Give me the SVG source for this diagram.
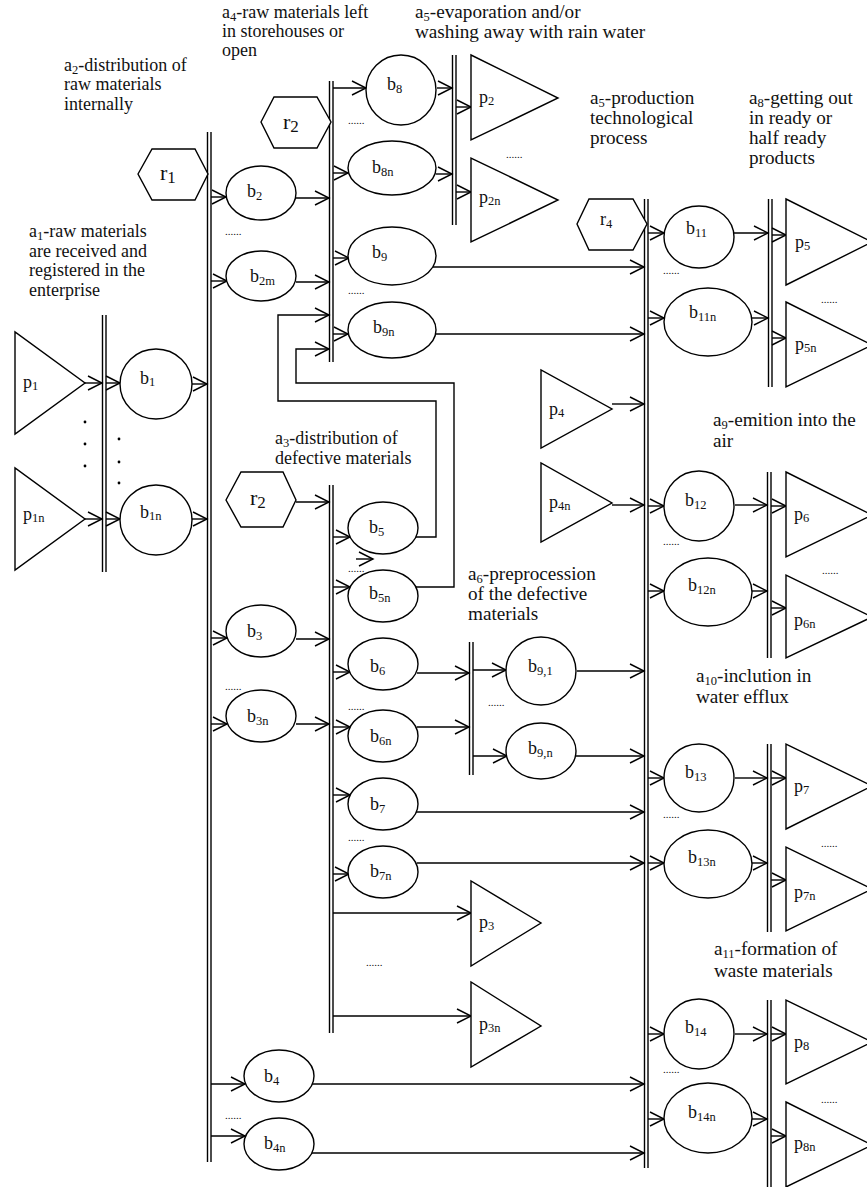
<svg xmlns="http://www.w3.org/2000/svg" width="867" height="1187" viewBox="0 0 867 1187">
  <style>
    .shape { fill: #fff; stroke: #000; stroke-width: 1.4; }
    .bar line { stroke: #000; stroke-width: 1.4; }
    .conn path { fill: none; stroke: #000; stroke-width: 1.4; marker-end: url(#ah); }
    text { font-family: "Liberation Serif", "Times New Roman", serif; fill: #111; }
    .t { font-size: 18px; }
    .t2 { font-size: 19.2px; }
    .n { font-size: 18px; }
    .r { font-size: 22px; }
    .s { font-size: 12.5px; }
    .rs { font-size: 17px; }
    .dots { font-size: 11px; }
    .dot { fill: #000; }
  </style>
  <defs>
    <marker id="ah" viewBox="0 0 16 16" markerWidth="16" markerHeight="16" refX="15" refY="8" orient="auto" markerUnits="userSpaceOnUse" overflow="visible">
      <path d="M1,1 L15,8 L1,15" fill="none" stroke="#000" stroke-width="1.4"/>
    </marker>
  </defs>
  <rect width="867" height="1187" fill="#fff"/>

  <!-- stage captions -->
  <g id="captions">
    <text class="t" x="222" y="18">a<tspan class="s" dy="3">4</tspan><tspan dy="-3">-raw materials left</tspan></text>
    <text class="t" x="222" y="37">in storehouses or</text>
    <text class="t" x="222" y="56">open</text>
    <text class="t2" x="415" y="18">a<tspan class="s" dy="3">5</tspan><tspan dy="-3">-evaporation and/or</tspan></text>
    <text class="t2" x="415" y="38">washing away with rain water</text>
    <text class="t" x="64" y="71">a<tspan class="s" dy="3">2</tspan><tspan dy="-3">-distribution of</tspan></text>
    <text class="t" x="64" y="90">raw materials</text>
    <text class="t" x="64" y="110">internally</text>
    <text class="t" x="29" y="237">a<tspan class="s" dy="3">1</tspan><tspan dy="-3">-raw materials</tspan></text>
    <text class="t" x="29" y="257">are received and</text>
    <text class="t" x="29" y="276">registered in the</text>
    <text class="t" x="29" y="296">enterprise</text>
    <text class="t2" x="590" y="104">a<tspan class="s" dy="3">5</tspan><tspan dy="-3">-production</tspan></text>
    <text class="t2" x="590" y="124">technological</text>
    <text class="t2" x="590" y="144">process</text>
    <text class="t2" x="749" y="104">a<tspan class="s" dy="3">8</tspan><tspan dy="-3">-getting out</tspan></text>
    <text class="t2" x="749" y="124">in ready or</text>
    <text class="t2" x="749" y="144">half ready</text>
    <text class="t2" x="749" y="164">products</text>
    <text class="t" x="275" y="444">a<tspan class="s" dy="3">3</tspan><tspan dy="-3">-distribution of</tspan></text>
    <text class="t" x="275" y="464">defective materials</text>
    <text class="t2" x="468" y="580">a<tspan class="s" dy="3">6</tspan><tspan dy="-3">-preprocession</tspan></text>
    <text class="t2" x="468" y="600">of the defective</text>
    <text class="t2" x="468" y="620">materials</text>
    <text class="t2" x="713" y="426">a<tspan class="s" dy="3">9</tspan><tspan dy="-3">-emition into the</tspan></text>
    <text class="t2" x="713" y="447">air</text>
    <text class="t2" x="696" y="682">a<tspan class="s" dy="3">10</tspan><tspan dy="-3">-inclution in</tspan></text>
    <text class="t2" x="696" y="703">water efflux</text>
    <text class="t2" x="714" y="955">a<tspan class="s" dy="3">11</tspan><tspan dy="-3">-formation of</tspan></text>
    <text class="t2" x="714" y="977">waste materials</text>
  </g>

  <!-- transitions (double bars) -->
  <g id="a1" class="bar"><line x1="102.5" y1="315" x2="102.5" y2="572"/><line x1="106" y1="315" x2="106" y2="572"/></g>
  <g id="a2" class="bar"><line x1="207.5" y1="132" x2="207.5" y2="1162"/><line x1="211" y1="132" x2="211" y2="1162"/></g>
  <g id="a4" class="bar"><line x1="329.5" y1="81" x2="329.5" y2="362"/><line x1="333" y1="81" x2="333" y2="362"/></g>
  <g id="a5-evaporation" class="bar"><line x1="452.5" y1="55" x2="452.5" y2="225"/><line x1="456" y1="55" x2="456" y2="225"/></g>
  <g id="a3" class="bar"><line x1="329.5" y1="485" x2="329.5" y2="1033"/><line x1="333" y1="485" x2="333" y2="1033"/></g>
  <g id="a6" class="bar"><line x1="469.5" y1="642" x2="469.5" y2="775"/><line x1="473" y1="642" x2="473" y2="775"/></g>
  <g id="a5-production" class="bar"><line x1="644.5" y1="199" x2="644.5" y2="1168"/><line x1="648" y1="199" x2="648" y2="1168"/></g>
  <g id="a8" class="bar"><line x1="768.5" y1="199" x2="768.5" y2="387"/><line x1="772" y1="199" x2="772" y2="387"/></g>
  <g id="a9" class="bar"><line x1="767.5" y1="472" x2="767.5" y2="658"/><line x1="771" y1="472" x2="771" y2="658"/></g>
  <g id="a10" class="bar"><line x1="767.5" y1="744" x2="767.5" y2="932"/><line x1="771" y1="744" x2="771" y2="932"/></g>
  <g id="a11" class="bar"><line x1="767.5" y1="1000" x2="767.5" y2="1187"/><line x1="771" y1="1000" x2="771" y2="1187"/></g>

  <!-- connectors -->
  <g id="connectors" class="conn">
    <path d="M85,383 H102"/>
    <path d="M106,383 H120"/>
    <path d="M192,384 H207"/>
    <path d="M85,519 H102"/>
    <path d="M106,519 H120"/>
    <path d="M192,519 H207"/>
    <path d="M211,197 H226"/>
    <path d="M211,281 H227"/>
    <path d="M211,638 H227"/>
    <path d="M211,724 H227"/>
    <path d="M211,1084 H245"/>
    <path d="M211,1136 H245"/>
    <path d="M296,198 H329"/>
    <path d="M296,282 H329"/>
    <path d="M296,639 H329"/>
    <path d="M296,724 H329"/>
    <path d="M333,88 H366"/>
    <path d="M333,173 H348"/>
    <path d="M333,258 H349"/>
    <path d="M333,334 H348"/>
    <path d="M416,537 H436 V401 H278 V315 H329"/>
    <path d="M416,587 H454 V383 H296 V349 H329"/>
    <path d="M437,88 H452"/>
    <path d="M436,174 H452"/>
    <path d="M456,107 H471"/>
    <path d="M456,192 H471"/>
    <path d="M433,267 H644"/>
    <path d="M436,334 H644"/>
    <path d="M296,502 H329"/>
    <path d="M333,537 H350"/>
    <path d="M333,587 H350"/>
    <path d="M356,559 H373"/>
    <path d="M333,672 H350"/>
    <path d="M333,727 H350"/>
    <path d="M333,795 H350"/>
    <path d="M333,874 H349"/>
    <path d="M333,913 H471"/>
    <path d="M333,1016 H471"/>
    <path d="M417,673 H469"/>
    <path d="M417,727 H469"/>
    <path d="M473,670 H506"/>
    <path d="M473,756 H507"/>
    <path d="M577,671 H644"/>
    <path d="M576,756 H644"/>
    <path d="M416,812 H644"/>
    <path d="M417,863 H644"/>
    <path d="M612,404 H644"/>
    <path d="M612,505 H644"/>
    <path d="M312,1084 H644"/>
    <path d="M312,1153 H644"/>
    <path d="M648,233 H664"/>
    <path d="M648,318 H664"/>
    <path d="M648,506 H664"/>
    <path d="M648,591 H664"/>
    <path d="M648,778 H664"/>
    <path d="M648,863 H664"/>
    <path d="M648,1034 H664"/>
    <path d="M648,1119 H664"/>
    <path d="M734,233 H768"/>
    <path d="M752,318 H768"/>
    <path d="M772,235 H786"/>
    <path d="M772,338 H786"/>
    <path d="M735,505 H767"/>
    <path d="M752,591 H767"/>
    <path d="M771,506 H786"/>
    <path d="M771,608 H786"/>
    <path d="M735,778 H767"/>
    <path d="M752,863 H767"/>
    <path d="M771,778 H786"/>
    <path d="M771,880 H786"/>
    <path d="M735,1034 H767"/>
    <path d="M752,1119 H767"/>
    <path d="M771,1034 H786"/>
    <path d="M771,1136 H786"/>
  </g>

  <!-- resources (hexagons) -->
  <g id="r1"><polygon class="shape" points="138,174 152,149 195,149 208,174 195,200 152,200"/><text class="r" x="160" y="180">r<tspan class="rs" dy="3">1</tspan></text></g>
  <g id="r2-top"><polygon class="shape" points="261,122 274,97 317,97 331,122 317,148 274,148"/><text class="r" x="283" y="129">r<tspan class="rs" dy="3">2</tspan></text></g>
  <g id="r2-mid"><polygon class="shape" points="226,500 241,472 283,472 296,500 283,527 241,527"/><text class="r" x="250" y="505">r<tspan class="rs" dy="3">2</tspan></text></g>
  <g id="r4"><polygon class="shape" points="577,224 589,199 633,199 647,224 633,250 589,250"/><text class="n" x="600" y="225">r<tspan class="s" dy="3">4</tspan></text></g>

  <!-- places (triangles) -->
  <g id="p1"><polygon class="shape" points="15,332 15,434 85,383"/><text class="n" x="23" y="388">p<tspan class="s" dy="2">1</tspan></text></g>
  <g id="p1n"><polygon class="shape" points="15,468 15,570 85,519"/><text class="n" x="23" y="520">p<tspan class="s" dy="2">1n</tspan></text></g>
  <g id="p2"><polygon class="shape" points="471,55 471,140 558,98"/><text class="n" x="479" y="103">p<tspan class="s" dy="2">2</tspan></text></g>
  <g id="p2n"><polygon class="shape" points="471,158 471,242 558,200"/><text class="n" x="479" y="203">p<tspan class="s" dy="2">2n</tspan></text></g>
  <g id="p3"><polygon class="shape" points="471,881 471,966 541,923"/><text class="n" x="479" y="928">p<tspan class="s" dy="2">3</tspan></text></g>
  <g id="p3n"><polygon class="shape" points="471,982 471,1067 541,1026"/><text class="n" x="479" y="1030">p<tspan class="s" dy="2">3n</tspan></text></g>
  <g id="p4"><polygon class="shape" points="541,370 541,448 612,409"/><text class="n" x="549" y="415">p<tspan class="s" dy="2">4</tspan></text></g>
  <g id="p4n"><polygon class="shape" points="541,463 541,542 612,503"/><text class="n" x="549" y="508">p<tspan class="s" dy="2">4n</tspan></text></g>
  <g id="p5"><polygon class="shape" points="786,199 786,285 872,242"/><text class="n" x="795" y="248">p<tspan class="s" dy="2">5</tspan></text></g>
  <g id="p5n"><polygon class="shape" points="786,302 786,387 872,345"/><text class="n" x="795" y="350">p<tspan class="s" dy="2">5n</tspan></text></g>
  <g id="p6"><polygon class="shape" points="786,472 786,557 872,515"/><text class="n" x="794" y="520">p<tspan class="s" dy="2">6</tspan></text></g>
  <g id="p6n"><polygon class="shape" points="786,575 786,658 872,617"/><text class="n" x="794" y="626">p<tspan class="s" dy="2">6n</tspan></text></g>
  <g id="p7"><polygon class="shape" points="786,744 786,829 872,786"/><text class="n" x="794" y="792">p<tspan class="s" dy="2">7</tspan></text></g>
  <g id="p7n"><polygon class="shape" points="786,847 786,931 872,889"/><text class="n" x="794" y="898">p<tspan class="s" dy="2">7n</tspan></text></g>
  <g id="p8"><polygon class="shape" points="786,1000 786,1084 872,1042"/><text class="n" x="794" y="1048">p<tspan class="s" dy="2">8</tspan></text></g>
  <g id="p8n"><polygon class="shape" points="786,1102 786,1187 872,1145"/><text class="n" x="794" y="1149">p<tspan class="s" dy="2">8n</tspan></text></g>

  <!-- states (ellipses) -->
  <g id="b1"><ellipse class="shape" cx="156" cy="384" rx="36" ry="35"/><text class="n" x="140" y="384">b<tspan class="s" dy="2">1</tspan></text></g>
  <g id="b1n"><ellipse class="shape" cx="156" cy="520" rx="36" ry="35"/><text class="n" x="140" y="518">b<tspan class="s" dy="2">1n</tspan></text></g>
  <g id="b2"><ellipse class="shape" cx="261" cy="193" rx="35" ry="27"/><text class="n" x="247" y="197">b<tspan class="s" dy="3">2</tspan></text></g>
  <g id="b2m"><ellipse class="shape" cx="261" cy="276" rx="35" ry="25"/><text class="n" x="250" y="282">b<tspan class="s" dy="3">2m</tspan></text></g>
  <g id="b8"><ellipse class="shape" cx="401" cy="90" rx="35" ry="35"/><text class="n" x="387" y="90">b<tspan class="s" dy="3">8</tspan></text></g>
  <g id="b8n"><ellipse class="shape" cx="392" cy="168" rx="44" ry="27"/><text class="n" x="372" y="173">b<tspan class="s" dy="3">8n</tspan></text></g>
  <g id="b9"><ellipse class="shape" cx="392" cy="256" rx="44" ry="29"/><text class="n" x="372" y="258">b<tspan class="s" dy="3">9</tspan></text></g>
  <g id="b9n"><ellipse class="shape" cx="392" cy="330" rx="44" ry="28"/><text class="n" x="373" y="333">b<tspan class="s" dy="3">9n</tspan></text></g>
  <g id="b5"><ellipse class="shape" cx="383" cy="528" rx="35" ry="26"/><text class="n" x="369" y="533">b<tspan class="s" dy="3">5</tspan></text></g>
  <g id="b5n"><ellipse class="shape" cx="383" cy="596" rx="35" ry="26"/><text class="n" x="369" y="599">b<tspan class="s" dy="3">5n</tspan></text></g>
  <g id="b3"><ellipse class="shape" cx="261" cy="631" rx="35" ry="26"/><text class="n" x="247" y="637">b<tspan class="s" dy="3">3</tspan></text></g>
  <g id="b3n"><ellipse class="shape" cx="261" cy="716" rx="35" ry="26"/><text class="n" x="247" y="722">b<tspan class="s" dy="3">3n</tspan></text></g>
  <g id="b6"><ellipse class="shape" cx="383" cy="664" rx="35" ry="26"/><text class="n" x="370" y="672">b<tspan class="s" dy="3">6</tspan></text></g>
  <g id="b6n"><ellipse class="shape" cx="383" cy="736" rx="35" ry="26"/><text class="n" x="370" y="742">b<tspan class="s" dy="3">6n</tspan></text></g>
  <g id="b7"><ellipse class="shape" cx="383" cy="804" rx="35" ry="26"/><text class="n" x="370" y="810">b<tspan class="s" dy="3">7</tspan></text></g>
  <g id="b7n"><ellipse class="shape" cx="383" cy="872" rx="35" ry="26"/><text class="n" x="370" y="877">b<tspan class="s" dy="3">7n</tspan></text></g>
  <g id="b9-1"><ellipse class="shape" cx="541" cy="671" rx="35" ry="34"/><text class="n" x="528" y="672">b<tspan class="s" dy="3">9,1</tspan></text></g>
  <g id="b9-n"><ellipse class="shape" cx="541" cy="751" rx="35" ry="28"/><text class="n" x="528" y="754">b<tspan class="s" dy="3">9,n</tspan></text></g>
  <g id="b4"><ellipse class="shape" cx="279" cy="1076" rx="35" ry="26"/><text class="n" x="264" y="1082">b<tspan class="s" dy="3">4</tspan></text></g>
  <g id="b4n"><ellipse class="shape" cx="279" cy="1144" rx="35" ry="26"/><text class="n" x="264" y="1149">b<tspan class="s" dy="3">4n</tspan></text></g>
  <g id="b11"><ellipse class="shape" cx="699" cy="237" rx="35" ry="31"/><text class="n" x="686" y="234">b<tspan class="s" dy="3">11</tspan></text></g>
  <g id="b11n"><ellipse class="shape" cx="708" cy="322" rx="44" ry="34"/><text class="n" x="689" y="318">b<tspan class="s" dy="3">11n</tspan></text></g>
  <g id="b12"><ellipse class="shape" cx="699" cy="506" rx="35" ry="35"/><text class="n" x="685" y="506">b<tspan class="s" dy="3">12</tspan></text></g>
  <g id="b12n"><ellipse class="shape" cx="708" cy="592" rx="44" ry="34"/><text class="n" x="688" y="591">b<tspan class="s" dy="3">12n</tspan></text></g>
  <g id="b13"><ellipse class="shape" cx="699" cy="778" rx="35" ry="34"/><text class="n" x="685" y="778">b<tspan class="s" dy="3">13</tspan></text></g>
  <g id="b13n"><ellipse class="shape" cx="708" cy="864" rx="44" ry="34"/><text class="n" x="688" y="863">b<tspan class="s" dy="3">13n</tspan></text></g>
  <g id="b14"><ellipse class="shape" cx="699" cy="1034" rx="35" ry="35"/><text class="n" x="685" y="1033">b<tspan class="s" dy="3">14</tspan></text></g>
  <g id="b14n"><ellipse class="shape" cx="708" cy="1118" rx="44" ry="35"/><text class="n" x="688" y="1118">b<tspan class="s" dy="3">14n</tspan></text></g>

  <!-- ellipsis marks between repeated elements -->
  <g id="ellipses">
    <text class="dots" x="225" y="235">......</text>
    <text class="dots" x="348" y="124">......</text>
    <text class="dots" x="348" y="294">......</text>
    <text class="dots" x="506" y="158">......</text>
    <text class="dots" x="663" y="274">......</text>
    <text class="dots" x="821" y="303">......</text>
    <text class="dots" x="348" y="572">......</text>
    <text class="dots" x="225" y="690">......</text>
    <text class="dots" x="348" y="710">......</text>
    <text class="dots" x="488" y="706">......</text>
    <text class="dots" x="348" y="841">......</text>
    <text class="dots" x="366" y="966">......</text>
    <text class="dots" x="225" y="1119">......</text>
    <text class="dots" x="663" y="545">......</text>
    <text class="dots" x="822" y="574">......</text>
    <text class="dots" x="663" y="818">......</text>
    <text class="dots" x="821" y="847">......</text>
    <text class="dots" x="663" y="1073">......</text>
    <text class="dots" x="821" y="1103">......</text>
    <circle class="dot" cx="85" cy="422" r="1.4"/>
    <circle class="dot" cx="85" cy="444" r="1.4"/>
    <circle class="dot" cx="85" cy="466" r="1.4"/>
    <circle class="dot" cx="119" cy="439" r="1.4"/>
    <circle class="dot" cx="119" cy="462" r="1.4"/>
    <circle class="dot" cx="119" cy="483" r="1.4"/>
  </g>
</svg>
